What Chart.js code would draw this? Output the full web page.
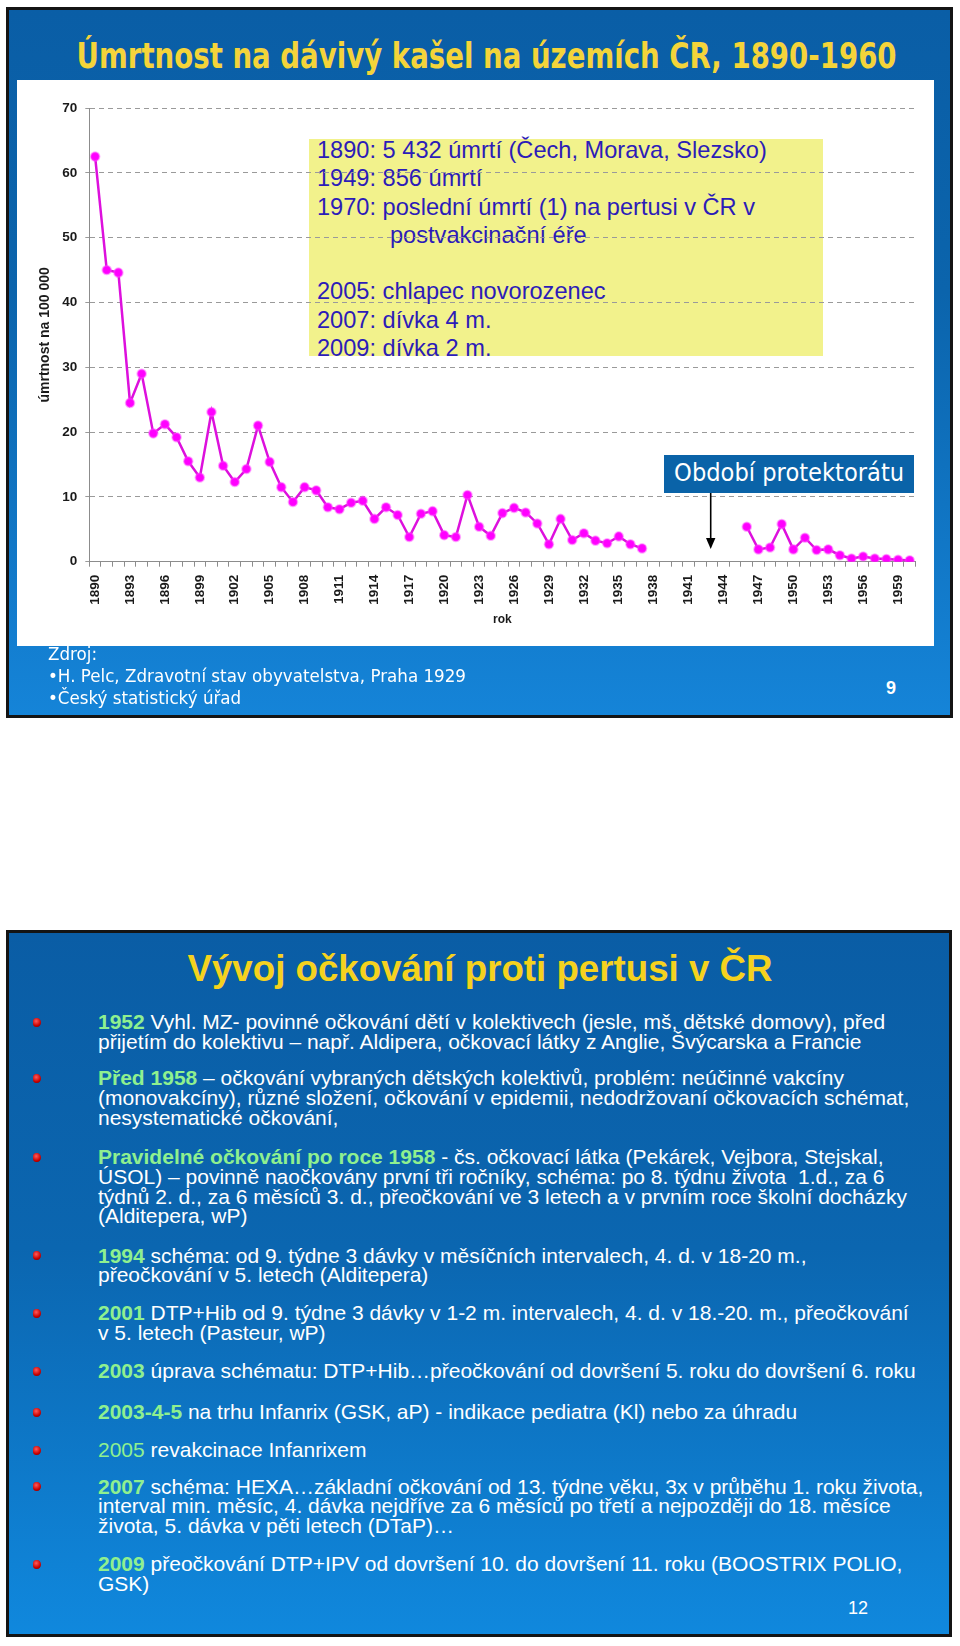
<!DOCTYPE html>
<html><head><meta charset="utf-8">
<script src="https://cdn.jsdelivr.net/npm/chart.js@4.4.1/dist/chart.umd.min.js"></script>
<style>
html,body{margin:0;padding:0;background:#fff;}
body{width:960px;height:1646px;position:relative;overflow:hidden;font-family:"Liberation Sans",Arial,sans-serif;}
.abs{position:absolute;white-space:nowrap;}
.slide{position:absolute;box-sizing:border-box;border:3px solid #141414;}
#s1{left:6px;top:7px;width:947px;height:711px;background:linear-gradient(180deg,#0a5ea6 0%,#0b64ac 40%,#1584d8 100%);}
#s2{left:6px;top:930px;width:946px;height:707px;background:linear-gradient(180deg,#0a5da5 0%,#0b66b0 45%,#1088dd 100%);}
#panel{left:17px;top:80px;width:917px;height:566px;background:#fff;}
#ybox{left:309px;top:139px;width:514px;height:217px;background:#f2f28c;}
.ann{font-size:23.6px;line-height:28.3px;color:#2c1cb8;}
.comic{font-family:"DejaVu Sans",sans-serif;}
#t1{color:#f4d43a;font-weight:bold;font-size:36px;line-height:40px;left:-513px;width:2000px;text-align:center;top:36px;}
#prot{left:664px;top:455px;width:250px;height:38px;background:#0a63a8;}
#protT{left:-375px;width:1000px;top:0;text-align:center;color:#fff;font-size:24px;line-height:37px;}
.foot{color:#fff;font-size:18px;line-height:21.7px;left:48px;transform-origin:0 50%;}
#t2{color:#f5d21e;font-weight:bold;font-size:36.7px;line-height:40px;left:0;width:960px;text-align:center;}
.p{left:98px;color:#fff;font-size:21px;line-height:19.8px;}
.g{color:#8ff08f;font-weight:bold;}
.gn{color:#8ff08f;}
.bul{position:absolute;left:33px;width:8px;height:9px;border-radius:50% 60% 60% 50%;background:radial-gradient(circle at 40% 35%,#ff5a5a,#c80000 60%,#700000);}
</style></head>
<body>
<!-- Slide 1 -->
<div id="s1" class="slide"></div>
<div id="t1" class="abs comic"><span id="t1s" style="display:inline-block">Úmrtnost na dávivý kašel na územích ČR, 1890-1960</span></div>
<div id="panel" class="abs"></div>
<div id="ybox" class="abs"></div>
<div class="abs ann" style="left:317px;top:136px;">1890: 5 432 úmrtí (Čech, Morava, Slezsko)<br>1949: 856 úmrtí<br>1970: poslední úmrtí (1) na pertusi v ČR v<br><span style="padding-left:73px">postvakcinační éře</span><br>&nbsp;<br>2005: chlapec novorozenec<br>2007: dívka 4 m.<br>2009: dívka 2 m.</div>
<canvas id="c" width="917" height="566" style="position:absolute;left:17px;top:80px;"></canvas>
<div id="prot" class="abs"><div id="protT" class="abs comic"><span id="protS" style="display:inline-block">Období protektorátu</span></div></div>
<svg class="abs" style="left:700px;top:490px;overflow:visible" width="22" height="64"><line x1="10.7" y1="3" x2="10.7" y2="50" stroke="#000" stroke-width="1.6"/><polygon points="6,48 15.4,48 10.7,59" fill="#000"/></svg>
<div class="abs foot comic" style="top:643px;">Zdroj:</div>
<div class="abs foot comic" style="top:665px;" id="fl">•H. Pelc, Zdravotní stav obyvatelstva, Praha 1929</div>
<div class="abs foot comic" style="top:687px;">•Český statistický úřad</div>
<div class="abs" style="left:880px;top:677px;width:22px;text-align:center;color:#fff;font-weight:bold;font-size:18px;line-height:22px;">9</div>

<!-- Slide 2 -->
<div id="s2" class="slide"></div>
<div id="t2" class="abs" style="top:949px;">Vývoj očkování proti pertusi v ČR</div>

<span class="bul" style="top:1017.5px"></span>
<div class="abs p" style="top:1012px"><span class="g">1952</span> Vyhl. MZ- povinné očkování dětí v kolektivech (jesle, mš, dětské domovy), před<br>přijetím do kolektivu – např. Aldipera, očkovací látky z Anglie, Švýcarska a Francie</div>

<span class="bul" style="top:1073.5px"></span>
<div class="abs p" style="top:1068px"><span class="g">Před 1958</span> – očkování vybraných dětských kolektivů, problém: neúčinné vakcíny<br>(monovakcíny), různé složení, očkování v epidemii, nedodržovaní očkovacích schémat,<br>nesystematické očkování,</div>

<span class="bul" style="top:1152.5px"></span>
<div class="abs p" style="top:1147px"><span class="g">Pravidelné očkování po roce 1958</span> - čs. očkovací látka (Pekárek, Vejbora, Stejskal,<br>ÚSOL) – povinně naočkovány první tři ročníky, schéma: po 8. týdnu života &nbsp;1.d., za 6<br>týdnů 2. d., za 6 měsíců 3. d., přeočkování ve 3 letech a v prvním roce školní docházky<br>(Alditepera, wP)</div>

<span class="bul" style="top:1251px"></span>
<div class="abs p" style="top:1245.5px"><span class="g">1994</span> schéma: od 9. týdne 3 dávky v měsíčních intervalech, 4. d. v 18-20 m.,<br>přeočkování v 5. letech (Alditepera)</div>

<span class="bul" style="top:1308.5px"></span>
<div class="abs p" style="top:1303px"><span class="g">2001</span> DTP+Hib od 9. týdne 3 dávky v 1-2 m. intervalech, 4. d. v 18.-20. m., přeočkování<br>v 5. letech (Pasteur, wP)</div>

<span class="bul" style="top:1366.5px"></span>
<div class="abs p" style="top:1361px"><span class="g">2003</span> úprava schématu: DTP+Hib…přeočkování od dovršení 5. roku do dovršení 6. roku</div>

<span class="bul" style="top:1407.5px"></span>
<div class="abs p" style="top:1402px"><span class="g">2003-4-5</span> na trhu Infanrix (GSK, aP) - indikace pediatra (Kl) nebo za úhradu</div>

<span class="bul" style="top:1445.5px"></span>
<div class="abs p" style="top:1440px"><span class="gn">2005</span> revakcinace Infanrixem</div>

<span class="bul" style="top:1482px"></span>
<div class="abs p" style="top:1476.5px"><span class="g">2007</span> schéma: HEXA…základní očkování od 13. týdne věku, 3x v průběhu 1. roku života,<br>interval min. měsíc, 4. dávka nejdříve za 6 měsíců po třetí a nejpozději do 18. měsíce<br>života, 5. dávka v pěti letech (DTaP)…</div>

<span class="bul" style="top:1559.5px"></span>
<div class="abs p" style="top:1554px"><span class="g">2009</span> přeočkování DTP+IPV od dovršení 10. do dovršení 11. roku (BOOSTRIX POLIO,<br>GSK)</div>

<div class="abs" style="left:844px;top:1597px;width:28px;text-align:center;color:#fff;font-size:18px;line-height:22px;">12</div>

<script>
// ---- data ----
const years = [1890,1891,1892,1893,1894,1895,1896,1897,1898,1899,
  1900,1901,1902,1903,1904,1905,1906,1907,1908,1909,
  1910,1911,1912,1913,1914,1915,1916,1917,1918,1919,
  1920,1921,1922,1923,1924,1925,1926,1927,1928,1929,
  1930,1931,1932,1933,1934,1935,1936,1937,1938,1939,
  1940,1941,1942,1943,1944,1945,1946,1947,1948,1949,
  1950,1951,1952,1953,1954,1955,1956,1957,1958,1959,1960];
const mortality = [62.5,45.0,44.6,24.5,29.0,19.8,21.2,19.2,15.5,13.0,
  23.1,14.8,12.3,14.3,21.0,15.4,11.5,9.2,11.5,11.0,
  8.4,8.1,9.1,9.4,6.6,8.4,7.2,3.8,7.4,7.8,
  4.1,3.8,10.3,5.4,4.0,7.5,8.3,7.6,5.9,2.7,
  6.6,3.35,4.4,3.25,2.85,3.9,2.7,2.05,null,null,
  null,null,null,null,null,null,5.4,1.9,2.2,5.8,
  1.9,3.7,1.8,1.9,1.0,0.5,0.8,0.5,0.4,0.3,0.2];
const tickYears = [1890,1893,1896,1899,1902,1905,1908,1911,1914,1917,1920,1923,1926,1929,1932,1935,1938,1941,1944,1947,1950,1953,1956,1959];
const yTicks = [0,10,20,30,40,50,60,70];

// ---- text width helper: keep glyph height, squeeze horizontally to target width ----
function measure(el){
  const cs = getComputedStyle(el);
  const c = document.createElement('canvas').getContext('2d');
  c.font = cs.fontStyle+' '+cs.fontWeight+' '+cs.fontSize+' '+cs.fontFamily;
  return c.measureText(el.textContent).width;
}
function squeeze(el, target, origin){
  const w = measure(el);
  el.style.transformOrigin = origin;
  el.style.transform = 'scaleX(' + (target / w) + ')';
}
squeeze(document.getElementById('t1s'), 820, '50% 50%');
squeeze(document.getElementById('protS'), 230, '50% 50%');
const fw = measure(document.getElementById('fl'));
document.querySelectorAll('.foot').forEach(e => { e.style.transform = 'scaleX(' + (418 / fw) + ')'; });

Chart.defaults.font.family = '"Liberation Sans", Arial, sans-serif';
new Chart(document.getElementById('c'), {
  type: 'line',
  data: {
    labels: years,
    datasets: [{
      data: mortality,
      borderColor: '#dd10dd',
      borderWidth: 2.5,
      pointRadius: 4.3,
      pointBackgroundColor: '#ff00ff',
      pointBorderColor: 'rgba(255,70,255,0.45)',
      pointBorderWidth: 2,
      spanGaps: false,
      tension: 0
    }]
  },
  options: {
    responsive: false,
    devicePixelRatio: 1,
    animation: false,
    layout: {padding: {top: 28, right: 14.7, bottom: 0, left: 0}},
    plugins: {legend: {display: false}, tooltip: {enabled: false}},
    scales: {
      x: {
        offset: true,
        grid: {offset: true, drawOnChartArea: false, tickLength: 5, color: '#8c8c8c'},
        border: {color: '#8c8c8c'},
        ticks: {
          autoSkip: false, maxRotation: 90, minRotation: 90, padding: 8,
          color: '#1a1a1a', font: {size: 13.5, weight: 'bold'},
          callback: (v, i) => tickYears.includes(years[i]) ? String(years[i]) : ''
        },
        title: {display: true, text: 'rok', color: '#1a1a1a', font: {size: 12, weight: 'bold'}, padding: {top: 0, bottom: 19}},
        afterFit: s => { s.height = 84.3; }
      },
      y: {
        min: 0, max: 70,
        afterBuildTicks: s => { s.ticks = yTicks.map(v => ({value: v})); },
        ticks: {padding: 8, color: '#1a1a1a', font: {size: 13.5, weight: 'bold'}},
        grid: {color: c => c.tick && c.tick.value === 0 ? 'rgba(0,0,0,0)' : '#9a9a9a', tickColor: '#9a9a9a', tickLength: 4},
        border: {color: '#8c8c8c', dash: [5, 4]},
        title: {display: true, text: 'úmrtnost na 100 000', color: '#1a1a1a', font: {size: 14, weight: 'bold'}, padding: {top: 20, bottom: 0}},
        afterFit: s => { s.width = 72.3; }
      }
    }
  }
});
</script>
</body></html>
